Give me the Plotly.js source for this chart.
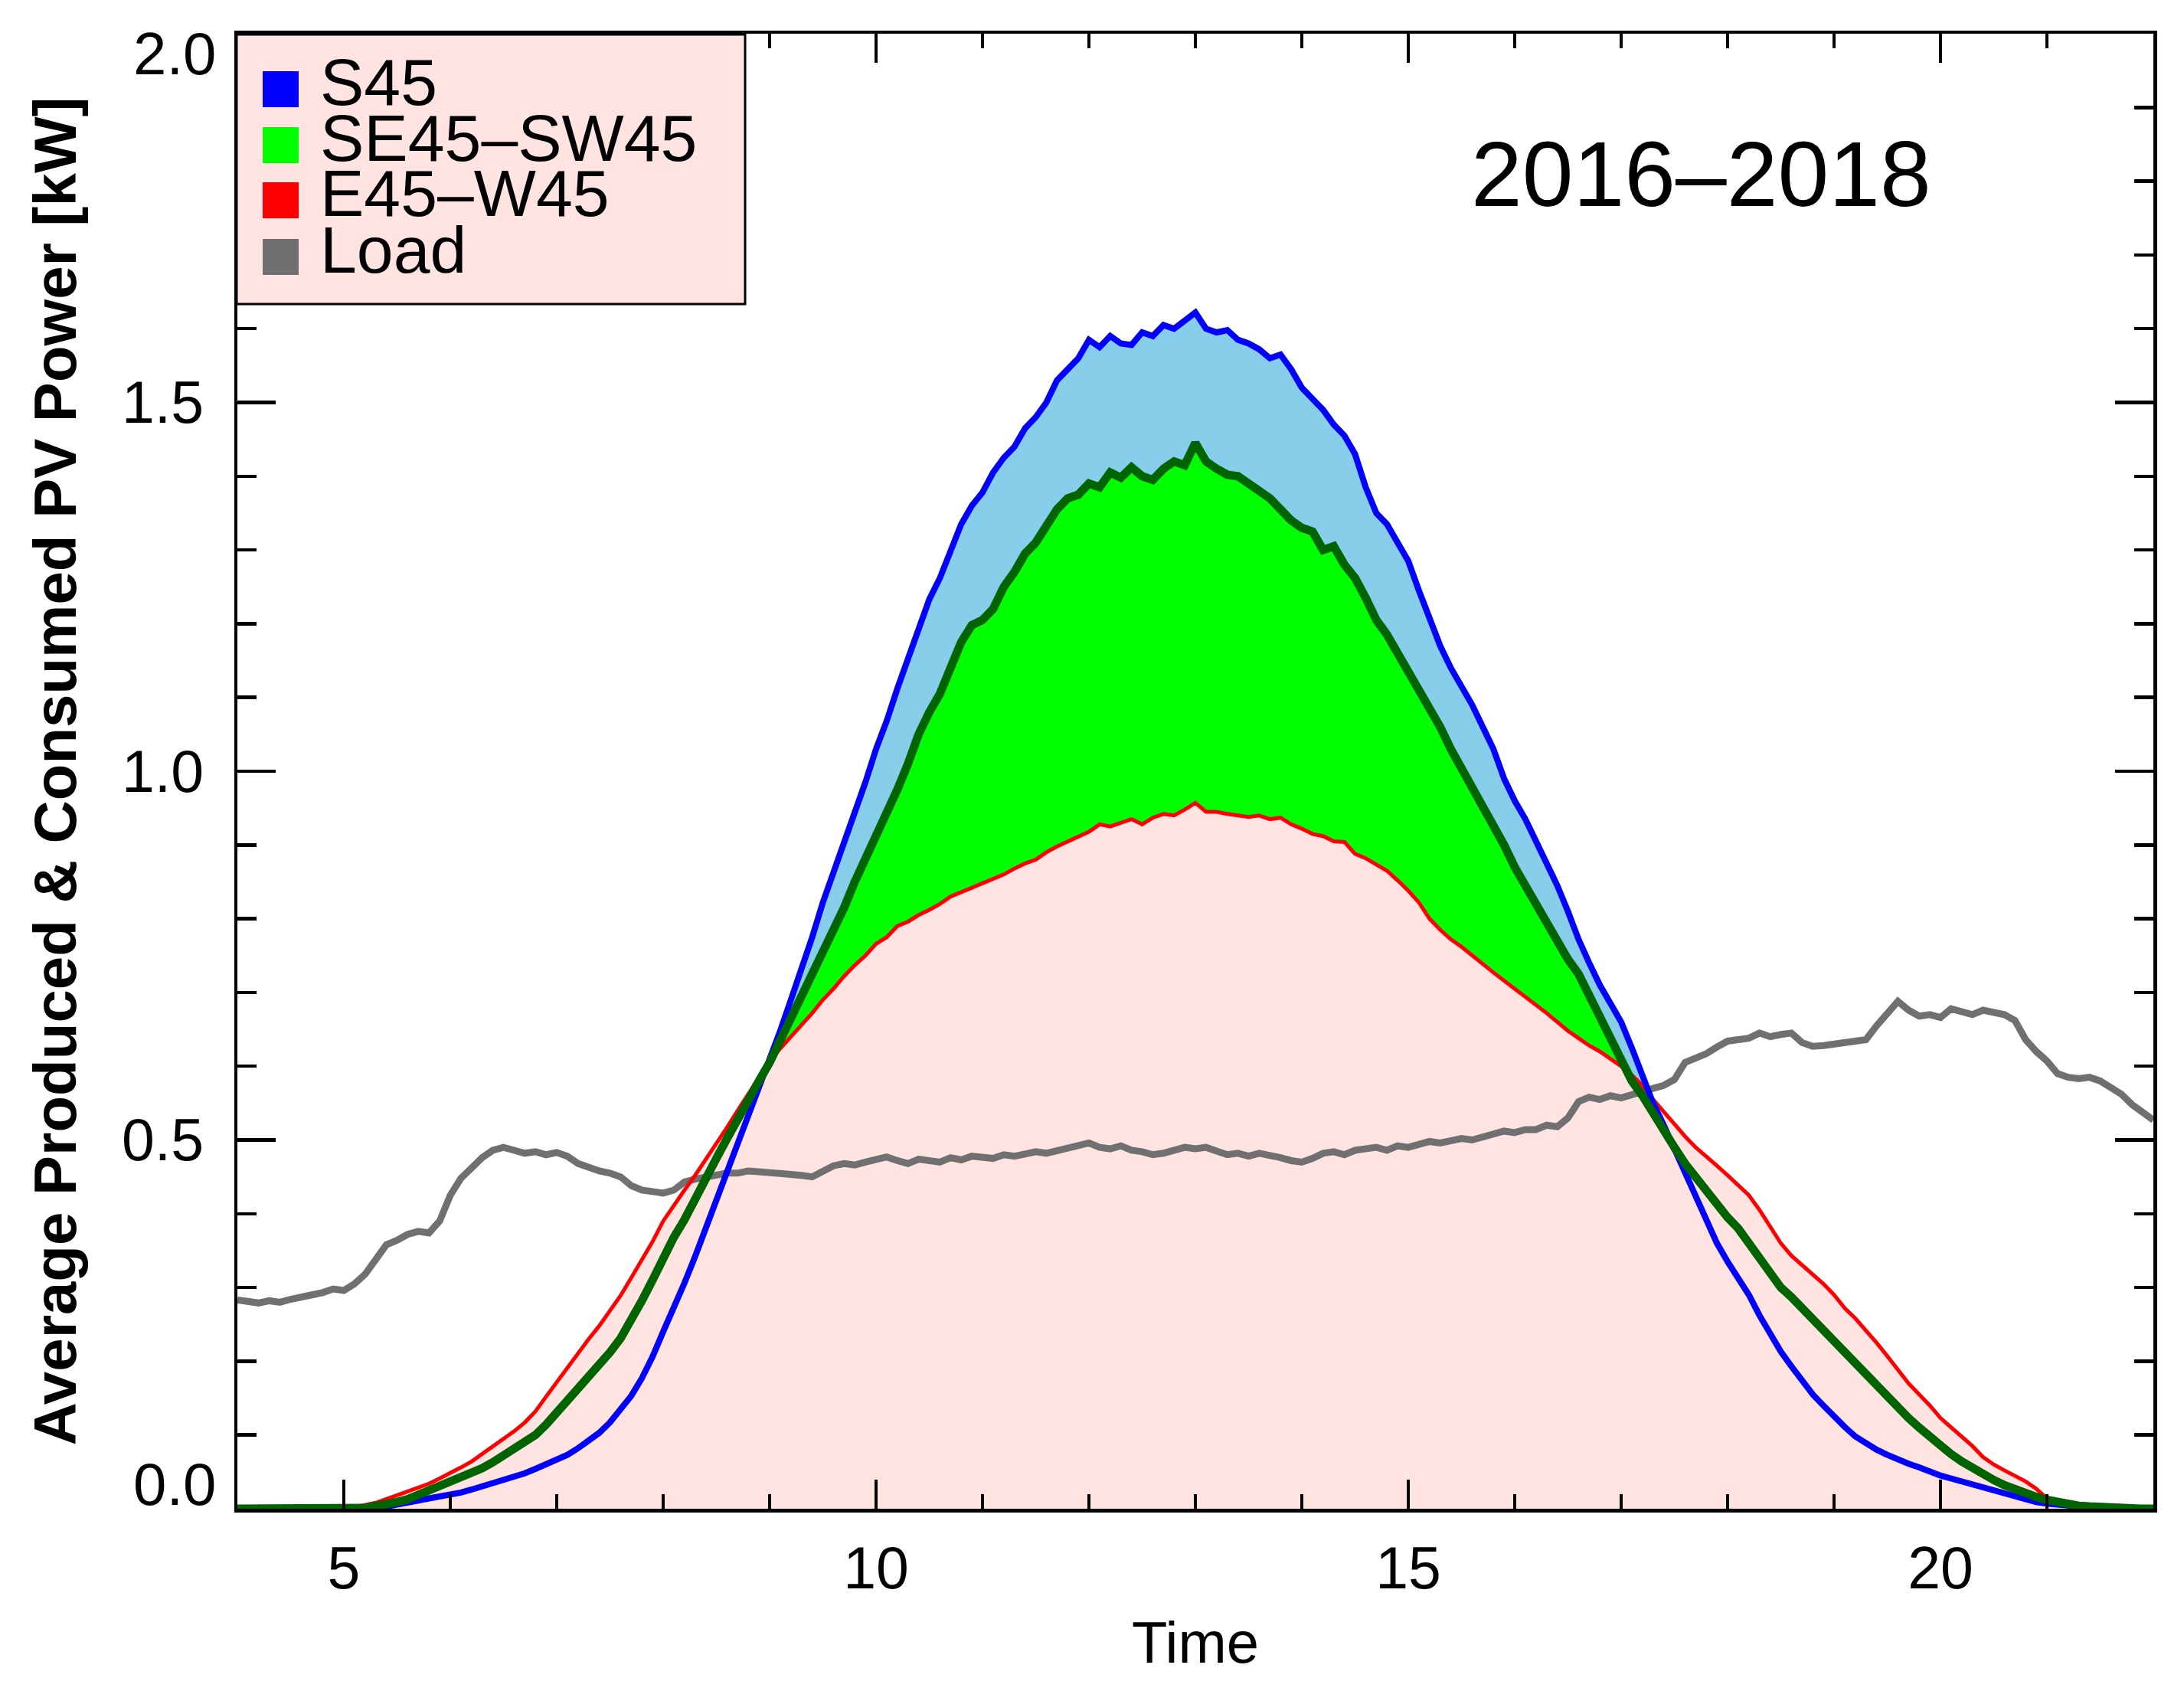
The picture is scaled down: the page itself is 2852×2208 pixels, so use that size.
<!DOCTYPE html>
<html>
<head>
<meta charset="utf-8">
<script src="https://cdn.plot.ly/plotly-3.0.1.min.js"></script>
<style>html,body{margin:0;padding:0;background:#fff;}#chart{width:2852px;height:2208px;}</style>
</head>
<body>
<div id="chart"></div>
<script>
// ---------------- data ----------------
const hours = [
 4.0,4.1,4.2,4.3,4.4,4.5,4.6,4.7,4.8,4.9,
 5.0,5.1,5.2,5.3,5.4,5.5,5.6,5.7,5.8,5.9,
 6.0,6.1,6.2,6.3,6.4,6.5,6.6,6.7,6.8,6.9,
 7.0,7.1,7.2,7.3,7.4,7.5,7.6,7.7,7.8,7.9,
 8.0,8.1,8.2,8.3,8.4,8.5,8.6,8.7,8.8,8.9,
 9.0,9.1,9.2,9.3,9.4,9.5,9.6,9.7,9.8,9.9,
 10.0,10.1,10.2,10.3,10.4,10.5,10.6,10.7,10.8,10.9,
 11.0,11.1,11.2,11.3,11.4,11.5,11.6,11.7,11.8,11.9,
 12.0,12.1,12.2,12.3,12.4,12.5,12.6,12.7,12.8,12.9,
 13.0,13.1,13.2,13.3,13.4,13.5,13.6,13.7,13.8,13.9,
 14.0,14.1,14.2,14.3,14.4,14.5,14.6,14.7,14.8,14.9,
 15.0,15.1,15.2,15.3,15.4,15.5,15.6,15.7,15.8,15.9,
 16.0,16.1,16.2,16.3,16.4,16.5,16.6,16.7,16.8,16.9,
 17.0,17.1,17.2,17.3,17.4,17.5,17.6,17.7,17.8,17.9,
 18.0,18.1,18.2,18.3,18.4,18.5,18.6,18.7,18.8,18.9,
 19.0,19.1,19.2,19.3,19.4,19.5,19.6,19.7,19.8,19.9,
 20.0,20.1,20.2,20.3,20.4,20.5,20.6,20.7,20.8,20.9,
 21.0,21.1,21.2,21.3,21.4,21.5,21.6,21.7,21.8,21.9,
 22.0
];

const s45 = [
 0,0,0,0,0,0,0,0,0,0,
 0,0.0005,0.001,0.002,0.003,0.005,0.008,0.011,0.014,0.016,
 0.019,0.022,0.026,0.030,0.034,0.038,0.043,0.048,0.054,0.060,
 0.066,0.073,0.082,0.092,0.103,0.117,0.134,0.153,0.177,0.206,
 0.240,0.272,0.306,0.342,0.380,0.420,0.458,0.497,0.535,0.572,
 0.607,0.648,0.690,0.730,0.775,0.822,0.862,0.905,0.948,0.985,
 1.030,1.068,1.112,1.152,1.190,1.233,1.262,1.300,1.335,1.360,
 1.378,1.405,1.425,1.440,1.465,1.480,1.500,1.530,1.545,1.560,
 1.585,1.575,1.590,1.580,1.578,1.595,1.590,1.605,1.600,1.612,
 1.622,1.600,1.595,1.598,1.585,1.580,1.572,1.560,1.565,1.545,
 1.520,1.505,1.490,1.470,1.455,1.430,1.385,1.350,1.335,1.310,
 1.285,1.245,1.206,1.170,1.140,1.115,1.090,1.060,1.030,0.990,
 0.960,0.935,0.905,0.878,0.845,0.810,0.772,0.740,0.710,0.685,
 0.660,0.625,0.585,0.550,0.520,0.488,0.455,0.422,0.390,0.360,
 0.335,0.312,0.290,0.262,0.236,0.213,0.193,0.173,0.155,0.140,
 0.125,0.111,0.098,0.088,0.080,0.073,0.066,0.061,0.056,0.050,
 0.045,0.041,0.037,0.032,0.028,0.024,0.020,0.016,0.012,0.009,
 0.007,0.005,0.004,0.003,0.002,0.0015,0.001,0.0005,0,0,
 0
];

const se45sw45 = [
 0,0,0,0,0,0,0,0,0,0,
 0,0.0005,0.001,0.004,0.006,0.009,0.013,0.019,0.025,0.031,
 0.037,0.042,0.047,0.055,0.063,0.072,0.080,0.088,0.100,0.114,
 0.130,0.146,0.163,0.178,0.195,0.212,0.231,0.255,0.282,0.310,
 0.340,0.368,0.392,0.418,0.446,0.475,0.502,0.530,0.556,0.580,
 0.605,0.635,0.664,0.693,0.722,0.753,0.785,0.815,0.850,0.880,
 0.910,0.940,0.975,1.010,1.050,1.080,1.105,1.140,1.175,1.198,
 1.205,1.220,1.250,1.270,1.295,1.310,1.335,1.355,1.370,1.375,
 1.390,1.385,1.405,1.398,1.412,1.400,1.395,1.410,1.420,1.415,
 1.445,1.420,1.410,1.402,1.400,1.390,1.380,1.370,1.355,1.340,
 1.330,1.325,1.300,1.305,1.280,1.262,1.235,1.205,1.185,1.160,
 1.135,1.110,1.086,1.060,1.030,1.005,0.975,0.950,0.925,0.900,
 0.870,0.845,0.815,0.790,0.768,0.745,0.725,0.695,0.668,0.640,
 0.610,0.580,0.560,0.535,0.510,0.490,0.468,0.450,0.430,0.410,
 0.395,0.380,0.360,0.340,0.318,0.300,0.287,0.272,0.257,0.243,
 0.226,0.210,0.195,0.180,0.165,0.150,0.135,0.123,0.110,0.097,
 0.085,0.074,0.064,0.055,0.047,0.039,0.032,0.026,0.021,0.016,
 0.012,0.009,0.006,0.004,0.003,0.002,0.0015,0.001,0.0005,0,
 0
];

const e45w45 = [
 0,0,0,0,0,0,0,0,0,0,
 0,0.002,0.005,0.008,0.013,0.018,0.024,0.029,0.034,0.041,
 0.048,0.056,0.064,0.074,0.084,0.094,0.105,0.117,0.132,0.152,
 0.172,0.192,0.212,0.230,0.248,0.268,0.289,0.313,0.338,0.362,
 0.390,0.412,0.432,0.452,0.473,0.495,0.517,0.540,0.562,0.585,
 0.607,0.624,0.640,0.657,0.672,0.690,0.705,0.722,0.737,0.750,
 0.766,0.775,0.790,0.796,0.805,0.812,0.820,0.830,0.836,0.842,
 0.848,0.855,0.860,0.868,0.875,0.880,0.890,0.898,0.905,0.912,
 0.918,0.928,0.925,0.930,0.935,0.928,0.937,0.942,0.940,0.948,
 0.957,0.945,0.945,0.942,0.940,0.938,0.940,0.935,0.937,0.928,
 0.922,0.915,0.912,0.905,0.904,0.888,0.882,0.873,0.865,0.852,
 0.838,0.822,0.800,0.785,0.772,0.762,0.750,0.738,0.727,0.716,
 0.705,0.694,0.684,0.672,0.660,0.648,0.638,0.628,0.620,0.610,
 0.600,0.588,0.574,0.555,0.538,0.522,0.505,0.490,0.478,0.465,
 0.452,0.438,0.425,0.405,0.382,0.360,0.343,0.330,0.318,0.305,
 0.290,0.272,0.258,0.242,0.225,0.207,0.188,0.170,0.155,0.140,
 0.123,0.110,0.097,0.085,0.070,0.060,0.052,0.045,0.037,0.027,
 0.014,0.009,0.006,0.004,0.003,0.002,0.0015,0.001,0.0005,0,
 0
];

const load = [
 0.283,0.280,0.279,0.282,0.280,0.284,0.286,0.290,0.293,0.298,
 0.296,0.305,0.318,0.337,0.358,0.364,0.372,0.376,0.374,0.390,
 0.425,0.448,0.462,0.476,0.486,0.490,0.486,0.482,0.484,0.480,
 0.483,0.478,0.468,0.462,0.458,0.455,0.450,0.438,0.432,0.430,
 0.428,0.432,0.443,0.447,0.450,0.452,0.455,0.455,0.458,0.457,
 0.456,0.454,0.455,0.452,0.450,0.458,0.465,0.468,0.466,0.470,
 0.474,0.477,0.472,0.468,0.474,0.472,0.470,0.476,0.473,0.478,
 0.477,0.475,0.480,0.478,0.481,0.484,0.482,0.486,0.489,0.492,
 0.496,0.490,0.488,0.492,0.486,0.484,0.480,0.482,0.486,0.490,
 0.488,0.490,0.485,0.480,0.482,0.478,0.482,0.480,0.476,0.472,
 0.470,0.475,0.482,0.484,0.480,0.486,0.488,0.490,0.486,0.492,
 0.490,0.494,0.498,0.496,0.500,0.502,0.500,0.504,0.508,0.512,
 0.510,0.514,0.514,0.520,0.518,0.530,0.552,0.558,0.555,0.560,
 0.557,0.562,0.565,0.570,0.574,0.582,0.605,0.610,0.617,0.626,
 0.634,0.636,0.638,0.645,0.640,0.643,0.645,0.632,0.627,0.628,
 0.630,0.630,0.633,0.636,0.655,0.670,0.688,0.676,0.668,0.670,
 0.666,0.678,0.675,0.670,0.676,0.672,0.670,0.662,0.636,0.620,
 0.607,0.590,0.585,0.583,0.585,0.580,0.572,0.562,0.548,0.538,
 0.527
];

const seriesNames = ["S45", "SE45–SW45", "E45–W45", "Load"];
const seriesColors = ["#0000FF", "#00FF00", "#FF0000", "#707070"];
const xTickVals = [5, 10, 15, 20];
const yTickVals = [0, 0.5, 1.0, 1.5, 2.0];
const yTickText = ["", "0.5", "1.0", "1.5", ""];
const yEdgeLabels = ["0.0", "2.0"];
const periodLabel = "2016–2018";

// ---------------- layout helpers ----------------
const W = 2852, H = 2208;
const L = 310, R = 2812, T = 44, B = 1970;
const px = X => (X - L) / (R - L);
const py = Y => (B - Y) / (B - T);
const FONT = "Liberation Sans, Arial, sans-serif";

const traces = [
  {x: hours, y: s45, mode: "none", fill: "tozeroy", fillcolor: "#87CEEB", hoverinfo: "skip", showlegend: false},
  {x: hours, y: se45sw45, mode: "none", fill: "tozeroy", fillcolor: "#00FF00", hoverinfo: "skip", showlegend: false},
  {x: hours, y: e45w45, mode: "none", fill: "tozeroy", fillcolor: "#FFE4E1", hoverinfo: "skip", showlegend: false},
  {x: hours, y: load, mode: "lines", line: {color: "#707070", width: 9}, name: seriesNames[3], showlegend: false},
  {x: hours, y: e45w45, mode: "lines", line: {color: "#FF0000", width: 5}, name: seriesNames[2], showlegend: false},
  {x: hours, y: s45, mode: "lines", line: {color: "#0000FF", width: 8}, name: seriesNames[0], showlegend: false},
  {x: hours, y: se45sw45, mode: "lines", line: {color: "#006400", width: 11}, name: seriesNames[1], showlegend: false}
];

// legend built from shapes + text
const shapes = [{
  type: "rect", xref: "paper", yref: "paper",
  x0: px(309), x1: px(973), y0: py(397), y1: py(45),
  fillcolor: "#FFE4E1", line: {color: "#000", width: 3}, layer: "above"
}];
const annotations = [];
const rowTop = [93, 166, 238, 312];
seriesNames.forEach((nm, i) => {
  shapes.push({
    type: "rect", xref: "paper", yref: "paper",
    x0: px(343), x1: px(390), y0: py(rowTop[i] + 47), y1: py(rowTop[i]),
    fillcolor: seriesColors[i], line: {width: 0}, layer: "above"
  });
  annotations.push({
    xref: "paper", yref: "paper", x: px(416), y: py(rowTop[i] + 14),
    xanchor: "left", yanchor: "middle", showarrow: false, text: nm,
    font: {family: FONT, size: 86, color: "#000"}
  });
});
annotations.push({
  xref: "x", yref: "y", x: 17.75, y: 1.81, showarrow: false, text: periodLabel,
  xanchor: "center", yanchor: "middle", font: {family: FONT, size: 120, color: "#000"}
});
annotations.push({
  xref: "paper", yref: "y", x: 0, y: 0, xanchor: "right", yanchor: "bottom",
  xshift: -26, yshift: -14, showarrow: false, text: yEdgeLabels[0],
  font: {family: FONT, size: 78, color: "#000"}
});
annotations.push({
  xref: "paper", yref: "y", x: 0, y: 2, xanchor: "right", yanchor: "top",
  xshift: -26, yshift: 20, showarrow: false, text: yEdgeLabels[1],
  font: {family: FONT, size: 78, color: "#000"}
});

const axisCommon = {
  showline: true, linecolor: "#000", linewidth: 4.5, mirror: "ticks",
  ticks: "inside", tickcolor: "#000", tickwidth: 4.5,
  showgrid: false, zeroline: false, automargin: false,
  tickfont: {family: FONT, size: 77, color: "#000"}
};

const layout = {
  width: W, height: H,
  margin: {l: L, r: W - R, t: T, b: H - B, pad: 0},
  paper_bgcolor: "#fff", plot_bgcolor: "#fff",
  showlegend: false,
  font: {family: FONT, color: "#000"},
  xaxis: Object.assign({}, axisCommon, {
    range: [4, 22], tickmode: "array", tickvals: xTickVals, ticklen: 38,
    ticklabelstandoff: 7,
    minor: {dtick: 1, tick0: 0, ticks: "inside", ticklen: 19, tickwidth: 4.5, tickcolor: "#000", showgrid: false},
    title: {text: "Time", font: {family: FONT, size: 76, color: "#000"}, standoff: 30}
  }),
  yaxis: Object.assign({}, axisCommon, {
    range: [0, 2], tickmode: "array", tickvals: yTickVals, ticktext: yTickText, ticklen: 50,
    ticklabelstandoff: 24,
    minor: {dtick: 0.1, tick0: 0, ticks: "inside", ticklen: 25, tickwidth: 4.5, tickcolor: "#000", showgrid: false},
    title: {text: "<b>Average Produced &amp; Consumed PV Power [kW]</b>", font: {family: FONT, size: 78, color: "#000"}, standoff: 35}
  }),
  shapes: shapes,
  annotations: annotations
};

Plotly.newPlot("chart", traces, layout, {staticPlot: true, displayModeBar: false});
</script>
</body>
</html>
